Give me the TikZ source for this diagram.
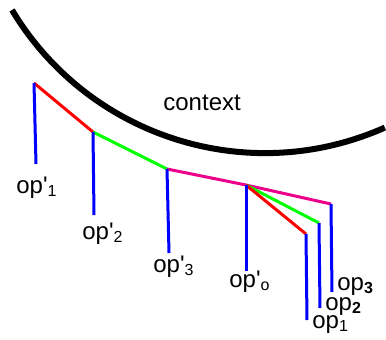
\documentclass[tikz,border=0pt]{standalone}
\usepackage{fontspec}
\setmainfont{Liberation Sans}
\usetikzlibrary{positioning}

\newcommand{\opp}[1]{op\textquotesingle\textsubscript{#1}}
\newcommand{\opn}[1]{op\textsubscript{#1}}

\begin{document}
\begin{tikzpicture}[x=0.5pt, y=-0.5pt,
  ctxarc/.style={line width=3pt, black},
  redseg/.style={line width=1.5pt, red},
  greenseg/.style={line width=1.5pt, green},
  magseg/.style={line width=1.5pt, magenta},
  opline/.style={line width=1.5pt, blue},
  oplabel/.style={anchor=base west, inner sep=0pt, font=\fontsize{12}{14}\selectfont}
]
  \useasboundingbox (0,0) rectangle (386,339);

  % ======= context =======
  \draw[ctxarc] (12,10) arc[start angle=149, end angle=66, radius=295];
  \node[oplabel] (ctx) at (163,110) {context};

  % ======= junctions =======
  \coordinate (j1) at (34,83);
  \coordinate (j2) at (93,132);
  \coordinate (j3) at (167,169);
  \coordinate (jo) at (246,185);
  \coordinate (e1) at (306,234);
  \coordinate (e2) at (319,223);
  \coordinate (e3) at (331,204);

  % free ends of the blue lines
  \coordinate (f1) at (36,164);
  \coordinate (f2) at (94,215);
  \coordinate (f3) at (169,253);
  \coordinate (fo) at (246,271);
  \coordinate (g1) at (307,320);
  \coordinate (g2) at (320,308);
  \coordinate (g3) at (332,292);

  % ======= coloured path =======
  \draw[redseg] (j1) -- (j2);
  \draw[greenseg] (j2) -- (j3);
  \draw[magseg] (j3) -- (jo) -- (e3);
  \draw[greenseg] (jo) -- (e2);
  \draw[redseg] (jo) -- (e1);

  % ======= operators =======
  \draw[opline] (j1) -- (f1);
  \draw[opline] (j2) -- (f2);
  \draw[opline] (j3) -- (f3);
  \draw[opline] (jo) -- (fo);
  \draw[opline] (e1) -- (g1);
  \draw[opline] (e2) -- (g2);
  \draw[opline] (e3) -- (g3);

  % labels
  \node[oplabel] (op1p) at (16,193)  {\opp{1}};
  \node[oplabel] (op2p) at (82,239)  {\opp{2}};
  \node[oplabel] (op3p) at (153,272) {\opp{3}};
  \node[oplabel] (opop) at (229,287) {\opp{o}};
  \node[oplabel] (op1)  at (312,328) {\opn{1}};
  \node[oplabel] (op2)  at (325,310) {\opn{\textbf{2}}};
  \node[oplabel] (op3)  at (337,290) {\opn{\textbf{3}}};

\end{tikzpicture}
\end{document}
